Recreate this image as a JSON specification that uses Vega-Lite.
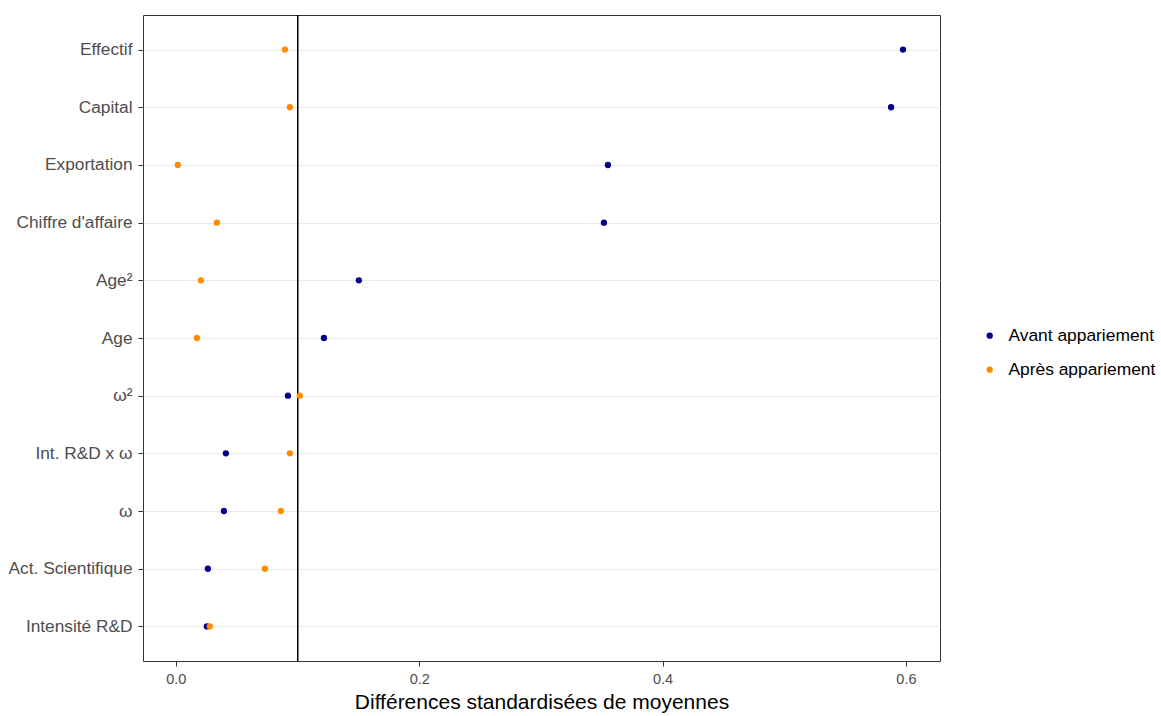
{
  "$schema": "https://vega.github.io/schema/vega-lite/v6.json",
  "width": 797,
  "height": 646,
  "autosize": {"type": "none"},
  "padding": {"left": 143, "top": 15, "right": 221, "bottom": 55},
  "background": "white",
  "config": {
    "font": "Liberation Sans",
    "view": {"stroke": "#333333", "strokeWidth": 1}
  },
  "data": {
    "values": [
      {"variable": "Effectif", "groupe": "Avant appariement", "valeur": 0.5976},
      {"variable": "Effectif", "groupe": "Après appariement", "valeur": 0.0896},
      {"variable": "Capital", "groupe": "Avant appariement", "valeur": 0.5878},
      {"variable": "Capital", "groupe": "Après appariement", "valeur": 0.0937},
      {"variable": "Exportation", "groupe": "Avant appariement", "valeur": 0.3551},
      {"variable": "Exportation", "groupe": "Après appariement", "valeur": 0.0016},
      {"variable": "Chiffre d'affaire", "groupe": "Avant appariement", "valeur": 0.3518},
      {"variable": "Chiffre d'affaire", "groupe": "Après appariement", "valeur": 0.0337},
      {"variable": "Age²", "groupe": "Avant appariement", "valeur": 0.1504},
      {"variable": "Age²", "groupe": "Après appariement", "valeur": 0.0206},
      {"variable": "Age", "groupe": "Avant appariement", "valeur": 0.1217},
      {"variable": "Age", "groupe": "Après appariement", "valeur": 0.0173},
      {"variable": "ω²", "groupe": "Avant appariement", "valeur": 0.0921},
      {"variable": "ω²", "groupe": "Après appariement", "valeur": 0.1019},
      {"variable": "Int. R&D x ω", "groupe": "Avant appariement", "valeur": 0.0411},
      {"variable": "Int. R&D x ω", "groupe": "Après appariement", "valeur": 0.0937},
      {"variable": "ω", "groupe": "Avant appariement", "valeur": 0.0395},
      {"variable": "ω", "groupe": "Après appariement", "valeur": 0.0863},
      {"variable": "Act. Scientifique", "groupe": "Avant appariement", "valeur": 0.0263},
      {"variable": "Act. Scientifique", "groupe": "Après appariement", "valeur": 0.0732},
      {"variable": "Intensité R&D", "groupe": "Avant appariement", "valeur": 0.0255},
      {"variable": "Intensité R&D", "groupe": "Après appariement", "valeur": 0.0279}
    ]
  },
  "layer": [
    {
      "mark": {"type": "rule", "color": "black", "strokeWidth": 1},
      "encoding": {"x": {"datum": 0.1, "type": "quantitative"}}
    },
    {
      "mark": {"type": "circle", "size": 40, "opacity": 1},
      "encoding": {
        "x": {
          "field": "valeur",
          "type": "quantitative",
          "scale": {"domain": [-0.027, 0.628], "nice": false, "zero": false},
          "axis": {
            "title": "Différences standardisées de moyennes",
            "titleFontSize": 21,
            "titleFontWeight": "normal",
            "titleColor": "black",
            "titlePadding": 6,
            "values": [0, 0.1, 0.2, 0.3, 0.4, 0.5, 0.6],
            "labelExpr": "round(datum.value*10) % 2 == 0 ? format(datum.value, '.1f') : ''",
            "tickOpacity": {"condition": {"test": "round(datum.value*10) % 2 == 1", "value": 0}, "value": 1},
            "labelFontSize": 14.5,
            "labelColor": "#4D4D4D",
            "labelPadding": 6,
            "tickColor": "#333333",
            "tickSize": 5,
            "domain": false,
            "gridColor": "#EBEBEB",
            "gridWidth": 1
          }
        },
        "y": {
          "field": "variable",
          "type": "nominal",
          "sort": ["Effectif", "Capital", "Exportation", "Chiffre d'affaire", "Age²", "Age", "ω²", "Int. R&D x ω", "ω", "Act. Scientifique", "Intensité R&D"],
          "scale": {"type": "point", "padding": 0.6},
          "axis": {
            "title": null,
            "labelFontSize": 17.3,
            "labelColor": "#4D4D4D",
            "labelPadding": 6,
            "tickColor": "#333333",
            "tickSize": 5,
            "domain": false,
            "grid": true,
            "gridColor": "#EBEBEB",
            "gridWidth": 1
          }
        },
        "color": {
          "field": "groupe",
          "type": "nominal",
          "scale": {"domain": ["Avant appariement", "Après appariement"], "range": ["#00008B", "#FF8C00"]},
          "legend": {
            "title": null,
            "orient": "none",
            "legendX": 838,
            "legendY": 312,
            "labelFontSize": 17.4,
            "labelColor": "black",
            "symbolSize": 40,
            "symbolType": "circle",
            "rowPadding": 15,
            "labelOffset": 10
          }
        }
      }
    }
  ]
}
